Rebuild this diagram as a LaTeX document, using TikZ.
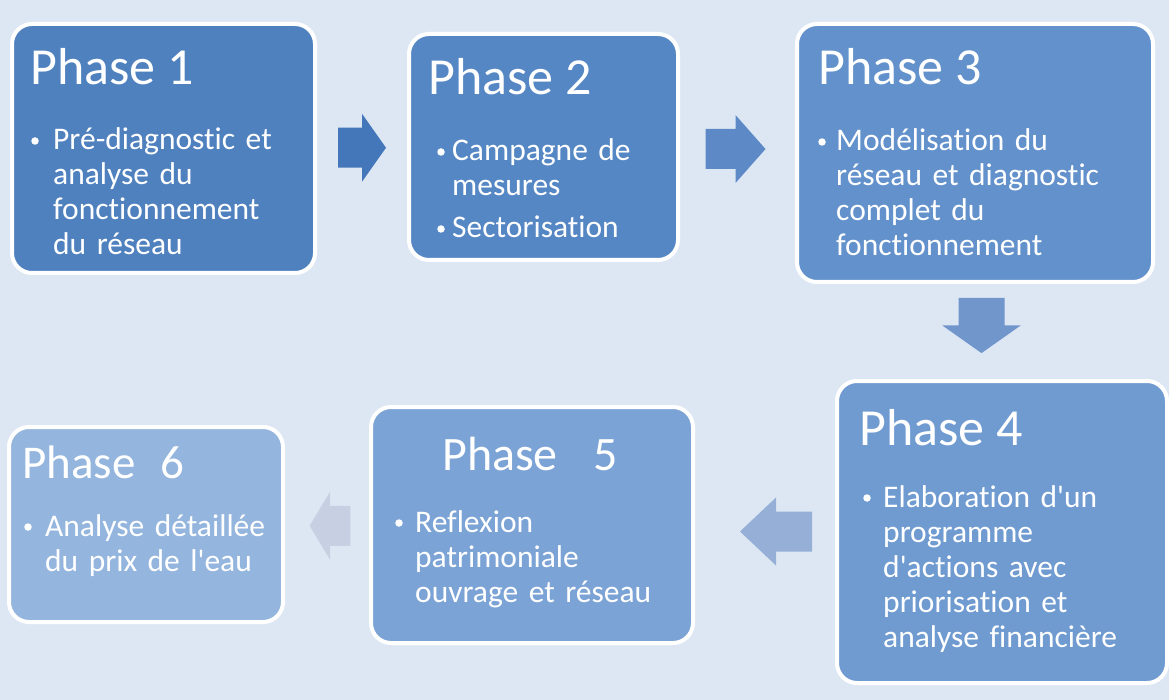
\documentclass[tikz,border=0pt]{standalone}
\usepackage{fontspec}
\setmainfont{Carlito}[Ligatures={NoCommon}]
\usetikzlibrary{calc}

\definecolor{bgblue}{RGB}{221,231,244}
\definecolor{box1}{RGB}{79,129,191}
\definecolor{box2}{RGB}{85,135,196}
\definecolor{box3}{RGB}{98,145,203}
\definecolor{box4}{RGB}{111,155,209}
\definecolor{box5}{RGB}{124,163,213}
\definecolor{box6}{RGB}{148,181,221}
\definecolor{arr1}{RGB}{68,118,186}
\definecolor{arr2}{RGB}{93,137,199}
\definecolor{arr3}{RGB}{112,150,204}
\definecolor{arr4}{RGB}{150,175,215}
\definecolor{arr5}{RGB}{198,208,226}

\tikzset{
  phasebox/.style={draw=white, line width=4pt, rounded corners=20pt, anchor=north west, inner sep=0pt},
  phasetitle/.style={anchor=base west, inner sep=0pt, text=white, font=\fontsize{52}{60}\selectfont},
  phaseitem/.style={anchor=base west, inner sep=0pt, text=white, text width=330pt, align=left, font=\fontsize{31.5}{35}\selectfont},
  bullet/.style={circle, fill=white, inner sep=0pt, minimum size=7.5pt},
  blockarr/.pic={\path[pic actions] (-24,-20) -- (0,-20) -- (0,-34) -- (24,0) -- (0,34) -- (0,20) -- (-24,20) -- cycle;}
}

\begin{document}
\begin{tikzpicture}[x=1pt, y=-1pt]

  \path[use as bounding box, fill=bgblue] (0,0) rectangle (1169,700);

  % phases
  \node[phasebox, fill=box1, minimum width=303pt, minimum height=249pt] (p1) at (10,22) {};
  \node[phasebox, fill=box2, minimum width=269pt, minimum height=226pt] (p2) at (407,32) {};
  \node[phasebox, fill=box3, minimum width=356pt, minimum height=258pt] (p3) at (795,22) {};
  \node[phasebox, fill=box4, minimum width=330pt, minimum height=302pt] (p4) at (835,379) {};
  \node[phasebox, fill=box5, minimum width=322pt, minimum height=236pt] (p5) at (369,405) {};
  \node[phasebox, fill=box6, minimum width=274pt, minimum height=195pt] (p6) at (7,425) {};

  \node[phasetitle] (t1) at (30,85) {Phase 1};
  \node[bullet] (b1) at (35,141) {};
  \node[phaseitem] (i1) at (53,150) {Pré-diagnostic et\\analyse du\\fonctionnement\\du réseau};

  \node[phasetitle] (t2) at (428,95) {Phase 2};
  \node[bullet] (b2a) at (441,152) {};
  \node[phaseitem] (i2a) at (452,161) {Campagne de\\mesures};
  \node[bullet] (b2b) at (441,229) {};
  \node[phaseitem] (i2b) at (452,238) {Sectorisation};

  \node[phasetitle] (t3) at (818,85) {Phase 3};
  \node[bullet] (b3) at (822,142) {};
  \node[phaseitem] (i3) at (836,151) {Modélisation du\\réseau et diagnostic\\complet du\\fonctionnement};

  \node[phasetitle] (t4) at (859,445) {Phase 4};
  \node[bullet] (b4) at (867,498) {};
  \node[phaseitem] (i4) at (883,507) {Elaboration d\textquotesingle un\\programme\\d\textquotesingle actions avec\\priorisation et\\analyse financière};

  \node[phasetitle, font=\fontsize{48}{56}\selectfont] (t5) at (442,470) {Phase\hspace{36pt}5};
  \node[bullet] (b5) at (399,523) {};
  \node[phaseitem] (i5) at (415,532) {Reflexion\\patrimoniale\\ouvrage et réseau};

  \node[phasetitle, font=\fontsize{47}{55}\selectfont] (t6) at (22,478) {Phase\hspace{25pt}6};
  \node[bullet] (b6) at (28,527) {};
  \node[phaseitem] (i6) at (45,536) {Analyse détaillée\\du prix de l\textquotesingle eau};

  % arrows between phases
  \pic[fill=arr1] (a12) at ($(p1.east)!.5!(p2.west)$) {blockarr};
  \pic[fill=arr2, xscale=1.25] (a23) at ($(p2.east)!.5!(p3.west)+(-2,-1)$) {blockarr};
  \pic[fill=arr3, rotate=-90, scale=1.15] (a34) at ($(p3.south)!.5!(p4.north)+(-7,-6)$) {blockarr};
  \pic[fill=arr4, rotate=180, xscale=1.5] (a45) at ($(p4.west)!.5!(p5.east)+(11,3)$) {blockarr};
  \pic[fill=arr5, rotate=180, xscale=0.85] (a56) at ($(p5.west)!.5!(p6.east)+(3,1)$) {blockarr};

\end{tikzpicture}
\end{document}
